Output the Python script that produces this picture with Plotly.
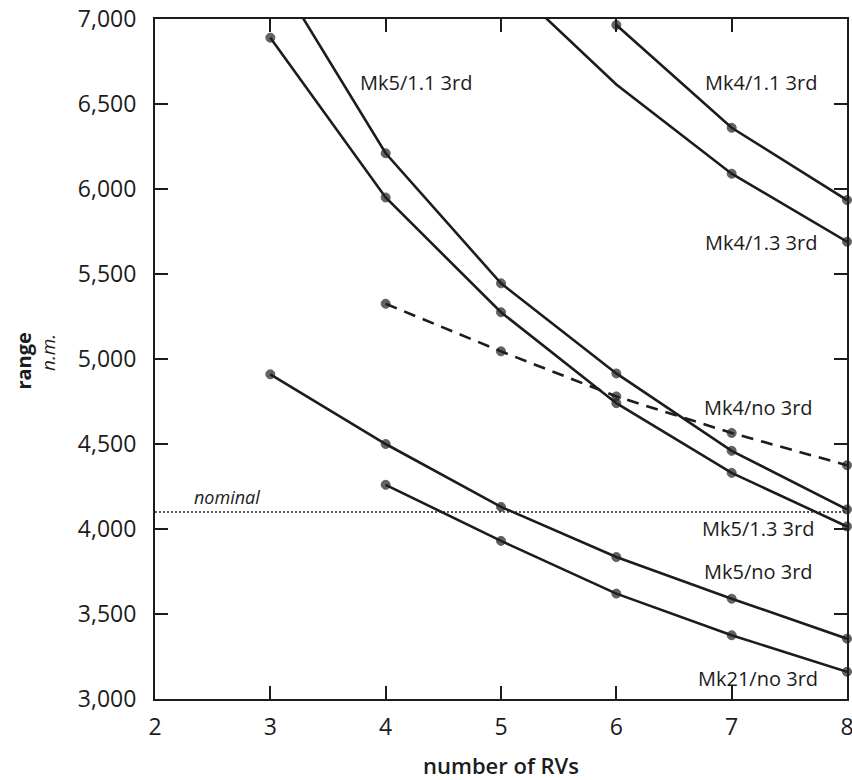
import plotly.graph_objects as go

# ---- data ----
rvs = [3, 4, 5, 6, 7, 8]

mk5_11_x = [3, 4, 5, 6, 7, 8]
mk5_11_y = [7320, 6210, 5445, 4915, 4460, 4115]

mk5_13_x = [3, 4, 5, 6, 7, 8]
mk5_13_y = [6890, 5950, 5275, 4740, 4330, 4015]

mk4_11_x = [6, 7, 8]
mk4_11_y = [6965, 6360, 5935]

mk4_13_x = [5, 6, 7, 8]
mk4_13_y = [7255, 6615, 6090, 5690]
mk4_13_marked = [False, False, True, True]

mk4_no_x = [4, 5, 6, 7, 8]
mk4_no_y = [5325, 5045, 4780, 4565, 4375]

mk5_no_x = [3, 4, 5, 6, 7, 8]
mk5_no_y = [4910, 4500, 4130, 3835, 3590, 3355]

mk21_no_x = [4, 5, 6, 7, 8]
mk21_no_y = [4260, 3930, 3620, 3375, 3160]

nominal = 4100

y_ticks = [3000, 3500, 4000, 4500, 5000, 5500, 6000, 6500, 7000]
x_ticks = [2, 3, 4, 5, 6, 7, 8]

labels = [
    ("Mk5/1.1 3rd", 4.26, 6629),
    ("Mk4/1.1 3rd", 7.25, 6629),
    ("Mk4/1.3 3rd", 7.25, 5686),
    ("Mk4/no 3rd", 7.23, 4714),
    ("Mk5/1.3 3rd", 7.23, 4001),
    ("Mk5/no 3rd", 7.23, 3748),
    ("Mk21/no 3rd", 7.23, 3118),
]

# ---- figure ----
INK = "#1c1c1c"
Y_MIN, Y_MAX = 3000, 7000
FONT = "Open Sans"


def sizes(ys, marked=None, s=9):
    out = []
    for i, v in enumerate(ys):
        ok = Y_MIN <= v <= Y_MAX
        if marked is not None:
            ok = ok and marked[i]
        out.append(s if ok else 0)
    return out


fig = go.Figure()

series = [
    (mk5_11_x, mk5_11_y, None, "solid"),
    (mk5_13_x, mk5_13_y, None, "solid"),
    (mk4_11_x, mk4_11_y, None, "solid"),
    (mk4_13_x, mk4_13_y, mk4_13_marked, "solid"),
    (mk4_no_x, mk4_no_y, None, "12px,8px"),
    (mk5_no_x, mk5_no_y, None, "solid"),
    (mk21_no_x, mk21_no_y, None, "solid"),
]

for xs, ys, marked, dash in series:
    # line (clipped to plot area)
    fig.add_trace(go.Scatter(
        x=xs, y=ys, mode="lines",
        line=dict(color=INK, width=2.6, dash=dash),
        showlegend=False, hoverinfo="skip",
    ))
    # markers (not clipped so edge dots show fully)
    fig.add_trace(go.Scatter(
        x=xs, y=ys, mode="markers",
        marker=dict(color="#222222", size=sizes(ys, marked),
                    line=dict(color=INK, width=1)),
        cliponaxis=False, showlegend=False,
    ))

# nominal line
fig.add_trace(go.Scatter(
    x=[x_ticks[0], x_ticks[-1]], y=[nominal, nominal], mode="lines",
    line=dict(color=INK, width=1.4, dash="2px,2px"),
    showlegend=False, hoverinfo="skip",
))
fig.add_annotation(x=2.32, y=nominal, text="<i>nominal</i>", showarrow=False,
                   xanchor="left", yanchor="bottom", yshift=1,
                   font=dict(family=FONT, size=18, color=INK))

for txt, lx, ly in labels:
    fig.add_annotation(x=lx, y=ly, text=txt, showarrow=False,
                       xanchor="center", yanchor="middle",
                       font=dict(family=FONT, size=20, color=INK))

# y axis titles
fig.add_annotation(xref="paper", yref="paper", x=-0.19, y=0.497,
                   text="<b>range</b>", textangle=-90, showarrow=False,
                   xanchor="center", yanchor="middle",
                   font=dict(family=FONT, size=20, color=INK))
fig.add_annotation(xref="paper", yref="paper", x=-0.155, y=0.51,
                   text="<i>n.m.</i>", textangle=-90, showarrow=False,
                   xanchor="center", yanchor="middle",
                   font=dict(family=FONT, size=19, color=INK))

axis_common = dict(
    showline=True, linecolor=INK, linewidth=2, mirror="ticks",
    ticks="inside", ticklen=13, tickwidth=2, tickcolor=INK,
    showgrid=False, zeroline=False, automargin=False,
    ticklabeloverflow="allow",
    tickfont=dict(family=FONT, size=23, color=INK),
)

fig.update_xaxes(range=[2, 8], tickvals=x_ticks, ticklabelstandoff=6,
                 title=dict(text="number of RVs",
                            font=dict(family=FONT, size=22, color=INK, weight=600),
                            standoff=22),
                 **axis_common)
fig.update_yaxes(range=[Y_MIN, Y_MAX], tickvals=y_ticks,
                 tickformat=",d", ticklabelstandoff=12,
                 **axis_common)

fig.update_layout(
    width=852, height=780,
    margin=dict(l=155, r=5, t=19, b=81),
    plot_bgcolor="white", paper_bgcolor="white",
    font=dict(family=FONT, color=INK),
)

fig.write_html("out.html")
